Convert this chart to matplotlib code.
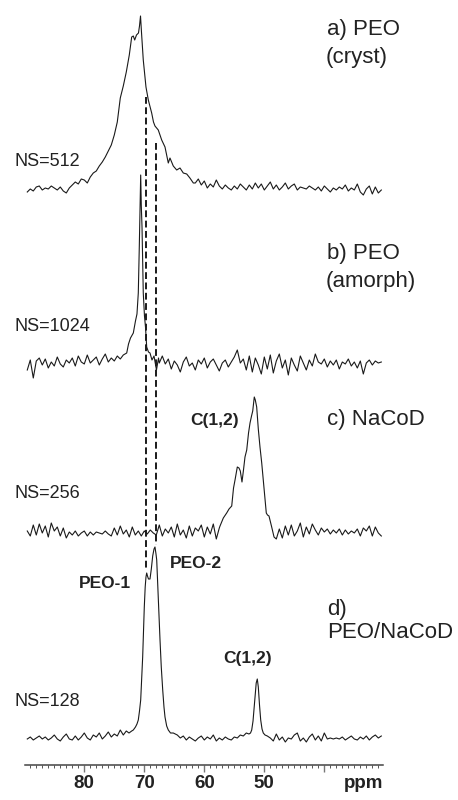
import numpy as np
import matplotlib
matplotlib.use("Agg")
import matplotlib.pyplot as plt
from matplotlib.ticker import MultipleLocator

plt.rcParams['font.family'] = ['Liberation Sans', 'DejaVu Sans']

# ---- data: heights above each trace's baseline (arbitrary units) ----
# baseline noise is sampled every 0.5 ppm from the start value given
# a) PEO (cryst)
a_left = [0, 3, 1, 5, 6, 2, 4, 3, 6, 4, 2, 5, 1, -1, 4, 7, 10, 8, 13, 12,
          9, 15, 19, 21, 26, 30, 35, 41, 47]
a_peak_ppm = [75.0, 74.5, 74.0, 73.5, 73.0, 72.5, 72.1, 71.83, 71.6, 71.3,
              70.97, 70.8, 70.63, 70.47, 70.17, 69.72, 69.33, 68.77, 68.47,
              68.22, 67.67, 67.1, 66.55, 66.0, 65.72, 65.17, 64.6, 64.05,
              63.5, 62.93, 62.4, 61.83]
a_peak = [57, 70, 94, 106, 120, 137, 155, 156, 152, 157, 159, 166, 176, 160,
          132, 105, 92, 79, 70, 66, 62, 52, 45, 29, 34, 26, 22, 24, 19, 18,
          14, 9]
a_right = [9, 13, 7, 11, 4, 8, 5, 12, 6, 3, 7, 4, 2, 6, 3, 8, 5, 2, 7, 3, 9,
           4, 8, 2, 6, 10, 3, 7, 2, 5, 9, 3, 6, 8, 2, 5, 4, 3, 6, 4, 2, 5, 1,
           6, 3, 0, 4, 2, 5, 3, 7, 1, 4, 2, 8, 0, -3, 3, 6, -2, 5, -1, 2]

# b) PEO (amorph)
b_left = [-4, 6, -12, 5, 8, 1, 7, -2, 4, 0, 9, 2, -1, 6, 3, 8, 0, 10, 4, 2,
          11, 3, 6, 9, 1, 7, 12, 4, 8, 5, 10, 7, 11]
b_peak_ppm = [72.93, 72.63, 72.3, 71.83, 71.47, 71.22, 71.0, 70.83, 70.68,
              70.6, 70.5, 70.38, 70.17, 69.97, 69.8, 69.6, 69.3, 69.05,
              68.72, 68.38, 67.97, 67.63]
b_peak = [13, 22, 28, 33, 45, 52, 73, 120, 170, 191, 160, 139, 73, 50, 39,
          19, 14, 13, 6, 10, -4, 8]
b_right = [3, 10, 2, 7, -3, 5, 1, -6, 4, 9, 0, 3, -4, 6, 2, 8, -2, 4, 7, 1,
           -5, 3, 6, -1, 4, 9, 16, 3, 7, -4, 10, -6, 8, 1, -8, 9, -3, 11, -7,
           5, 12, -2, 6, -9, 8, 1, -5, 10, 3, -4, 6, 0, 12, 4, 2, 7, -1, 5,
           1, 6, -3, 4, 2, 7, 0, 4, -2, 5, -8, 3, 6, 1, 5, 3, 4]

# c) NaCoD
c_left = [2, -3, 8, -2, 9, 0, 7, -4, 10, 2, 6, -3, 5, -5, 1, -2, 2, -3, 0, 2,
          -3, 1, -2, 1, 0, -1, 2, -1, -3, 5, -2, 7, -1, 3, -4, 6, -2, 2, -3,
          2, -1, 3, 0, -2, 8, -3, 4, 0, 6, -4, 9, -2, 3, -5, 7, -3, 5, 2, 8,
          -4, 6, -1, 9, -6, 5]
c_peak_ppm = [57.38, 56.83, 56.27, 55.88, 55.43, 55.13, 54.88, 54.5, 54.22,
              54.0, 53.72, 53.47, 53.22, 52.93, 52.63, 52.38, 52.13, 51.93,
              51.67, 51.5, 51.27, 51.0, 50.72, 50.43, 50.17, 49.88, 49.67,
              49.47, 49.22, 48.77, 48.38]
c_peak = [7, 15, 20, 24, 27, 45, 53, 66, 65, 62, 51, 63, 76, 83, 100, 110,
          117, 122, 136, 133, 126, 104, 86, 70, 53, 35, 20, 18, 17, 6, -4]
c_right = [-6, 4, -5, 7, -2, 8, -3, 2, 10, -4, 6, -1, 9, 3, -2, 5, 1, 4, -1,
           3, 0, 4, -2, 3, -1, 2, 0, 4, -3, 5, 2, 7, -3, 6, 0, -3]

# d) PEO/NaCoD
d_left = [0, 2, -1, 1, 3, 0, 2, -1, 1, 4, 0, -2, 2, 5, 0, -1, 3, -1, 2, 6,
          1, -1, 4, 2, 6, 0, 3, 7, 2]
d_peo_ppm = [75.0, 74.5, 74.0, 73.5, 73.0, 72.55, 72.1, 71.83, 71.47, 71.22,
             71.0, 70.8, 70.6, 70.43, 70.27, 70.13, 70.0, 69.85, 69.72, 69.6,
             69.47, 69.3, 69.05, 68.83, 68.6, 68.38, 68.22, 68.05, 67.93,
             67.67, 67.38, 67.17, 66.93, 66.72, 66.55, 66.27, 66.0, 65.63,
             65.17]
d_peo = [5, 3, 9, 4, 8, 6, 8, 9, 12, 15, 19, 28, 39, 60, 82, 108, 132, 152,
         162, 166, 163, 160, 160, 170, 183, 190, 192, 185, 179, 140, 99, 72,
         49, 32, 22, 13, 9, 6, 6]
d_mid = [4, 1, 3, -1, 2, 0, -2, 1, 3, -1, 2, 0, 4, -2, 1, -1, 2, 0, -1, 2,
         1, 4, 3, 6]
d_c_ppm = [52.55, 52.3, 52.1, 51.88, 51.67, 51.5, 51.35, 51.17, 51.0, 50.8,
           50.6, 50.38, 50.17, 49.88]
d_c = [5, 6, 9, 18, 33, 45, 56, 60, 52, 34, 19, 10, 6, 4]
d_right = [3, 1, -2, 5, -1, 2, -3, 1, 0, 4, 6, -2, 1, -3, 2, 5, -1, 3, -2, 6,
           0, 1, 0, 1, 0, 2, -1, 1, 3, 0, -1, 2, 0, 3, -1, 2, 4, 1, 3]

# PEO-1 / PEO-2 positions (ppm) for the dashed guide lines
peo_lines = [69.72, 68.05]
tick_vals = [80, 70, 60, 50, 40]
tick_labels = ['80', '70', '60', '50', '']


def grid(start, vals):
    return start - 0.5 * np.arange(len(vals))


def join(*parts):
    x = np.concatenate([p[0] for p in parts])
    y = np.concatenate([np.asarray(p[1], float) for p in parts])
    return x, y


spec_a = join((grid(89.5, a_left), a_left), (np.array(a_peak_ppm), a_peak),
              (grid(61.5, a_right), a_right))
spec_b = join((grid(89.5, b_left), b_left), (np.array(b_peak_ppm), b_peak),
              (grid(67.5, b_right), b_right))
spec_c = join((grid(89.5, c_left), c_left), (np.array(c_peak_ppm), c_peak),
              (grid(48.0, c_right), c_right))
spec_d = join((grid(89.5, d_left), d_left), (np.array(d_peo_ppm), d_peo),
              (grid(64.5, d_mid), d_mid), (np.array(d_c_ppm), d_c),
              (grid(49.5, d_right), d_right))

# stacking offsets (vertical layout)
offsets = [573, 399, 232, 26]

W, H = 458, 800
fig = plt.figure(figsize=(W / 100, H / 100), dpi=100)
ax = fig.add_axes([25 / W, 35 / H, 358 / W, 765 / H])

for (x, y), off in zip([spec_a, spec_b, spec_c, spec_d], offsets):
    ax.plot(x, y + off, '-', color='#1a1a1a', lw=0.8)

# dashed guides from trace a down to the PEO peaks of trace d
ax.plot([peo_lines[0]] * 2, [668, 195], color='#1a1a1a', lw=1.4,
        linestyle=(0, (3.5, 1.8)))
ax.plot([peo_lines[1]] * 2, [622, 220], color='#1a1a1a', lw=1.4,
        linestyle=(0, (3.5, 1.8)))

ax.set_xlim(89.88, 30.22)
ax.set_ylim(0, 765)
for s in ['top', 'left', 'right']:
    ax.spines[s].set_visible(False)
ax.spines['bottom'].set_color('#444444')
ax.spines['bottom'].set_linewidth(1.1)
ax.set_yticks([])
ax.set_xticks(tick_vals)
ax.set_xticklabels(tick_labels, fontsize=13.5, fontweight='bold',
                   color='#222222')
ax.xaxis.set_minor_locator(MultipleLocator(1))
ax.tick_params(axis='x', which='major', length=5, width=1, color='#777777',
               direction='out', pad=2.5)
ax.tick_params(axis='x', which='minor', length=1.8, width=0.7,
               color='#555555', direction='out')


def put(x, y, s, **kw):
    fig.text(x / W, 1 - y / H, s, va='center', **kw)


lab = dict(fontsize=16, color='#222222')
ns = dict(fontsize=13, color='#222222')
bold = dict(fontsize=12.5, fontweight='bold', color='#222222')

put(327, 29, 'a) PEO', **lab)
put(326, 57, '(cryst)', **lab)
put(15, 161, 'NS=512', **ns)
put(327, 254, 'b) PEO', **lab)
put(326, 281, '(amorph)', **lab)
put(15, 327, 'NS=1024', **ns)
put(327, 420, 'c) NaCoD', **lab)
put(190, 420, 'C(1,2)', **bold)
put(15, 493, 'NS=256', **ns)
put(170, 563, 'PEO-2', **bold)
put(79, 584, 'PEO-1', **bold)
put(327, 610, 'd)', **lab)
put(327, 633, 'PEO/NaCoD', **lab)
put(223, 658, 'C(1,2)', **bold)
put(15, 702, 'NS=128', **ns)
put(383, 784, 'ppm', ha='right', fontsize=13.5, fontweight='bold',
    color='#222222')

fig.savefig('out.png', dpi=100)
